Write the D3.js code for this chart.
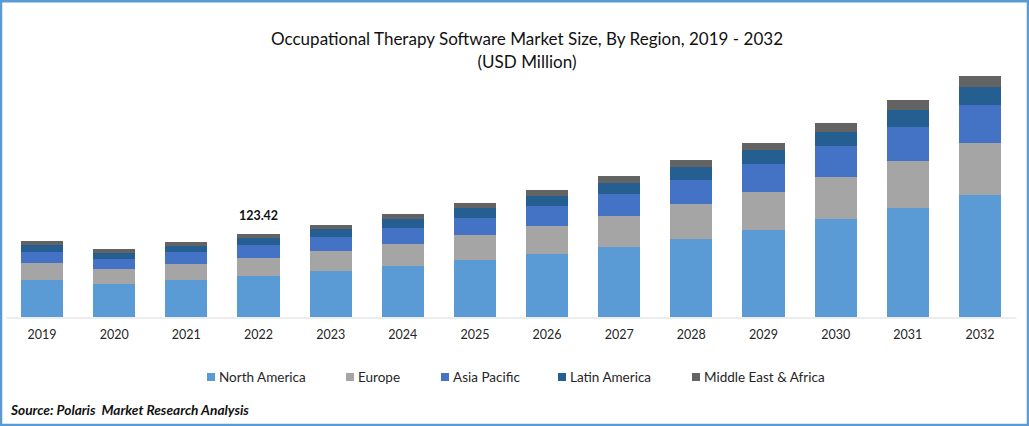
<!DOCTYPE html>
<html>
<head>
<meta charset="utf-8">
<script src="https://cdn.jsdelivr.net/npm/d3@7"></script>
<style>
  html, body { margin: 0; padding: 0; background: #fff; }
  svg { display: block; }
  text { font-family: Lato, "Open Sans", sans-serif; }
</style>
</head>
<body>
<svg id="canvas" width="1029" height="426"></svg>
<script>
var years = ["2019","2020","2021","2022","2023","2024","2025","2026","2027","2028","2029","2030","2031","2032"]
var regions = ["North America","Europe","Asia Pacific","Latin America","Middle East & Africa"]
var colors = ["#5b9bd5","#a5a5a5","#4472c4","#255e91","#636363"]

// values, USD million (2022 total is the labelled one)
var northAmerica = [55.0,49.1,55.0,61.0,68.4,75.8,84.8,93.7,104.1,116.0,129.4,145.7,162.1,181.4]
var europe = [25.3,22.3,23.8,26.8,29.7,32.7,37.2,41.6,46.1,52.0,56.5,62.5,69.9,77.3]
var asiaPacific = [16.4,14.9,17.8,19.3,20.8,23.8,25.3,29.7,32.7,35.7,41.6,46.1,50.6,56.5]
var latinAmerica = [10.4,8.9,8.9,10.4,11.9,13.4,14.9,14.9,16.4,19.3,20.8,20.8,25.3,26.8]
var middleEast = [5.9,5.9,5.9,5.9,5.9,7.4,7.4,8.9,10.4,10.4,10.4,13.4,14.9,16.4]

var labelYear = "2022"
var labelValue = "123.42"

var svg = d3.select("#canvas")

// table for d3.stack
var series = [northAmerica, europe, asiaPacific, latinAmerica, middleEast]
var table = years.map(function(y, i) {
    var row = {year: y}
    regions.forEach(function(r, j) { row[r] = series[j][i] })
    return row
})

var x = d3.scaleBand().domain(years).range([6, 1016]).paddingInner(0.417).paddingOuter(0.2085)
var y = d3.scaleLinear().domain([0, 400]).range([317, 48])
var color = d3.scaleOrdinal().domain(regions).range(colors)

var stacked = d3.stack().keys(regions)(table)

svg.selectAll("g.layer")
    .data(stacked)
    .enter().append("g")
    .attr("class", "layer")
    .attr("fill", function(d) { return color(d.key) })
    .selectAll("rect")
    .data(function(d) { return d })
    .enter().append("rect")
    .attr("x", function(d) { return x(d.data.year) })
    .attr("width", x.bandwidth())
    .attr("y", function(d) { return y(d[1]) })
    .attr("height", function(d) { return y(d[0]) - y(d[1]) })
    .attr("shape-rendering", "crispEdges")

// x axis
var axis = svg.append("g")
    .attr("transform", "translate(0,317.5)")
    .call(d3.axisBottom(x).tickSize(0).tickPadding(13))
axis.select(".domain").attr("stroke", "#d9d9d9").attr("stroke-width", 1.2)
axis.selectAll("text")
    .attr("fill", "#262626")
    .style("font-family", "Lato")
    .style("font-size", "12.5px")

// the one labelled bar
svg.append("text")
    .attr("x", x(labelYear) + x.bandwidth() / 2)
    .attr("y", y(d3.sum(series, function(s) { return s[years.indexOf(labelYear)] })) - 14)
    .attr("text-anchor", "middle")
    .attr("font-size", 12.5)
    .attr("font-weight", 700)
    .attr("fill", "#111")
    .text(labelValue)

// titles
svg.append("text")
    .attr("x", 527).attr("y", 45)
    .attr("text-anchor", "middle")
    .attr("font-size", 17.05)
    .attr("fill", "#111")
    .text("Occupational Therapy Software Market Size, By Region, 2019 - 2032")
svg.append("text")
    .attr("x", 527).attr("y", 68)
    .attr("text-anchor", "middle")
    .attr("font-size", 17.05)
    .attr("fill", "#111")
    .text("(USD Million)")

// legend
var legendX = [207, 346, 441, 558, 692]
var legend = svg.selectAll("g.legend")
    .data(regions)
    .enter().append("g")
    .attr("class", "legend")
    .attr("transform", function(d, i) { return "translate(" + legendX[i] + ",373)" })
legend.append("rect")
    .attr("width", 8).attr("height", 8)
    .attr("fill", function(d) { return color(d) })
legend.append("text")
    .attr("x", 12).attr("y", 8.5)
    .attr("font-size", 13.5)
    .attr("fill", "#262626")
    .text(function(d) { return d })

svg.append("text")
    .attr("x", 11).attr("y", 415)
    .attr("font-size", 13.7)
    .attr("font-weight", 700)
    .attr("font-style", "italic")
    .attr("fill", "#111")
    .attr("xml:space", "preserve")
    .text("Source: Polaris  Market Research Analysis")

// blue frame
svg.append("rect")
    .attr("x", 1).attr("y", 1.25)
    .attr("width", 1027).attr("height", 423.75)
    .attr("fill", "none")
    .attr("stroke", "#5b9bd5")
    .attr("stroke-width", 2.5)
</script>
</body>
</html>
